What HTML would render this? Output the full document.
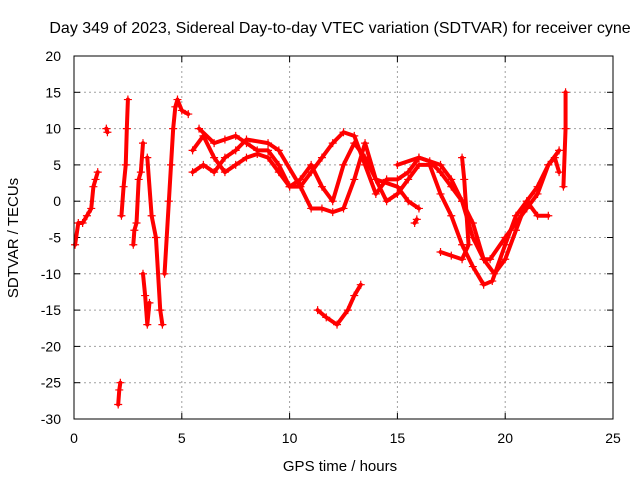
<!DOCTYPE html>
<html><head><meta charset="utf-8"><style>
body{margin:0;background:#fff}
svg{display:block;font-family:"Liberation Sans",sans-serif}
</style></head><body>
<svg id="chart" width="640" height="480">
<text x="340" y="33" font-size="16" text-anchor="middle">Day 349 of 2023, Sidereal Day-to-day VTEC variation (SDTVAR) for receiver cyne</text>
<text x="340" y="471" font-size="15" text-anchor="middle">GPS time / hours</text>
<text transform="translate(18,238) rotate(-90)" font-size="15" text-anchor="middle">SDTVAR / TECUs</text>
<g id="grid"></g><g id="marks"></g>
<rect x="74" y="56" width="539" height="363" fill="none" stroke="#000"/>
</svg>
<script>
const xTicks=[0,5,10,15,20,25];
const yTicks=[20,15,10,5,0,-5,-10,-15,-20,-25,-30];
const trackTimes=[
[0.05,0.2,0.4,0.6,0.8,0.9,1.0,1.1],
[1.5,1.55],
[2.05,2.1,2.15],
[2.2,2.3,2.4,2.45,2.5],
[2.75,2.8,2.9,3.0,3.1,3.2],
[3.2,3.3,3.4,3.5],
[3.4,3.6,3.8,4.0,4.1],
[4.2,4.4,4.5,4.6,4.7,4.8,5.0,5.3],
[5.5,6,6.5,7,7.5,8,8.5,9,9.5,10,10.5,11,11.5,12,12.5,13,13.5,14,14.5,15,15.5,16,16.5,17,17.5,18,18.5,19,19.3,20,20.5,21,21.5,22,22.3,22.5],
[5.8,6.5,7,7.5,8,8.5,9,9.5,10,10.5,11,11.5,12,12.5,13,13.5,14,15,15.5,16],
[5.5,6,6.5,7,7.5,8,9,9.5,10.5,11,11.5,12,12.5,13,13.5,14,14.5,15,15.5,16,16.5,17,17.5,18,18.5,19,19.4,20,20.5,21,21.5,22],
[15,16,17,17.5,18,18.5,19,19.5,20,20.5,21,21.5,22,22.5],
[17,17.5,18,18.3,18.1,18],
[11.3,11.7,12.2,12.7,13,13.3],
[22.7,22.8,22.8],
[15.8,15.9]
];
const trackValues=[
[-6,-3,-3,-2,-1,2,3,4],
[10,9.5],
[-28,-26,-25],
[-2,2,5,10,14],
[-6,-4,-3,3,4,8],
[-10,-13,-17,-14],
[6,-2,-5,-15,-17],
[-10,0,5,10,13,14,12.5,12],
[7,9,6,4,5,6,6.5,6,4,2,2,4,6,8,9.5,9,5,1,3,3,4,6,5.5,4,2,0,-5,-8,-8,-5,-3,-1,1,5,6,4],
[10,8,8.5,9,8,7,7,5,2,3,5,2,0,5,8,6,3,2,0,-1],
[4,5,4,6,7,8.5,8,7,2,-1,-1,-1.5,-1,3,8,3,0,1,3,5,5,1,-2,-6,-9,-11.5,-11,-6,-2,0,-2,-2],
[5,6,5,3,0,-3,-8,-10,-8,-4,0,2,5,7],
[-7,-7.5,-8,-6,3,6],
[-15,-16,-17,-15,-13,-11.5],
[2,10,15],
[-3,-2.5]
];
const X=v=>74+(v-0)*539/25, Y=v=>56+(20-v)*363/50;
const NS="http://www.w3.org/2000/svg";
const svg=document.getElementById('chart'),grid=document.getElementById('grid'),marks=document.getElementById('marks');
function mk(t,a,p){const e=document.createElementNS(NS,t);for(const k in a)e.setAttribute(k,a[k]);p.appendChild(e);return e;}
xTicks.forEach(t=>{
 const x=X(t);
 if(t>0&&t<25){const l=mk('line',{x1:x,x2:x,y1:56,y2:419,stroke:'#a0a0a0','stroke-dasharray':'2,3'},grid);
 
 }
 mk('line',{x1:x,x2:x,y1:419,y2:413,stroke:'#000'},grid);
 mk('line',{x1:x,x2:x,y1:56,y2:62,stroke:'#000'},grid);
 const tx=mk('text',{x:x,y:443,'font-size':14,'text-anchor':'middle'},svg);tx.textContent=t;
 
 
});
yTicks.forEach(t=>{
 const y=Y(t);
 if(t<20&&t>-30){const l=mk('line',{x1:74,x2:613,y1:y,y2:y,stroke:'#a0a0a0','stroke-dasharray':'2,3'},grid);
 
 }
 mk('line',{x1:74,x2:80,y1:y,y2:y,stroke:'#000'},grid);
 mk('line',{x1:613,x2:607,y1:y,y2:y,stroke:'#000'},grid);
 const tx=mk('text',{x:61,y:y+5,'font-size':14,'text-anchor':'end'},svg);tx.textContent=t;
 
 
});
trackTimes.forEach((ts,i)=>{
 const vs=trackValues[i];
 const pts=ts.map((t,j)=>X(t)+','+Y(vs[j])).join(' ');
 const pl=mk('polyline',{points:pts,fill:'none',stroke:'#ff0000','stroke-width':4,'stroke-linejoin':'round','stroke-linecap':'round'},marks);
 
 
 ts.forEach((t,j)=>{
  const x=X(t),y=Y(vs[j]);
  const p=mk('path',{d:`M${x-4},${y}H${x+4}M${x},${y-4}V${y+4}`,stroke:'#ff0000','stroke-width':1.2},marks);
  
  
 });
});
</script>
</body></html>
